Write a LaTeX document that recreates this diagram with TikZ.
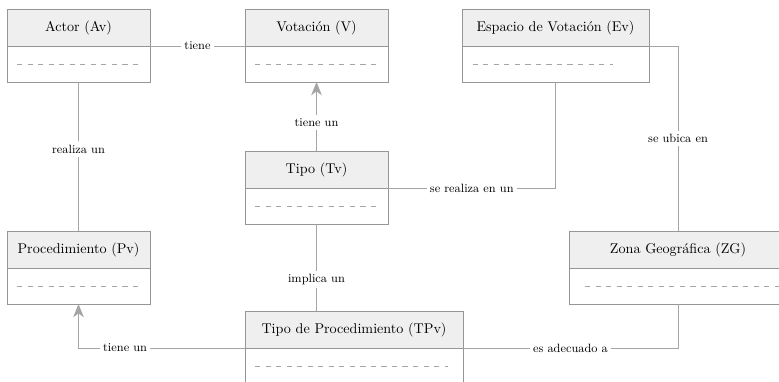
\documentclass[tikz,border=0pt]{standalone}
\usepackage{tikz}
\usepackage{xcolor}
\usetikzlibrary{positioning,arrows.meta}

\definecolor{bordegris}{RGB}{150,150,150}
\definecolor{lineagris}{RGB}{165,165,165}
\definecolor{cabfondo}{RGB}{239,239,239}

\begin{document}
\begin{tikzpicture}[x=0.75pt,y=0.75pt,yscale=-1,xscale=1,
  cab/.style={draw=bordegris,fill=cabfondo,line width=0.75pt,minimum height=27.75pt,inner sep=0pt,outer sep=0pt,font=\fontsize{10.6}{12}\selectfont},
  cuerpo/.style={draw=bordegris,fill=white,line width=0.75pt,minimum height=27pt,inner sep=0pt,outer sep=0pt,below=0pt of #1},
  rel/.style={draw=lineagris,line width=0.75pt},
  guion/.style={draw=lineagris,line width=0.6pt,dash pattern=on 3.9pt off 4pt},
  etiq/.style={fill=white,inner sep=2.5pt,font=\small}]
\useasboundingbox (0,0) rectangle (779,382);

%Shape: Clase Actor
\node [cab,minimum width=107.25pt] (av) at (78.5,27.5) {Actor (Av)};
\node [cuerpo=av,minimum width=107.25pt] (avb) {};
%Shape: Clase Votacion
\node [cab,minimum width=107.25pt] (v) at (316.5,27.5) {Votación (V)};
\node [cuerpo=v,minimum width=107.25pt] (vb) {};
%Shape: Clase Espacio de Votacion
\node [cab,minimum width=140.25pt] (ev) at (555.5,27.5) {Espacio de Votación (Ev)};
\node [cuerpo=ev,minimum width=140.25pt] (evb) {};
%Shape: Clase Tipo
\node [cab,minimum width=107.25pt] (tv) at (316.5,169.5) {Tipo (Tv)};
\node [cuerpo=tv,minimum width=107.25pt] (tvb) {};
%Shape: Clase Procedimiento
\node [cab,minimum width=107.25pt] (pv) at (78.5,249.5) {Procedimiento (Pv)};
\node [cuerpo=pv,minimum width=107.25pt] (pvb) {};
%Shape: Clase Zona Geografica
\node [cab,minimum width=163.5pt] (zg) at (678,249.5) {Zona Geográfica (ZG)};
\node [cuerpo=zg,minimum width=163.5pt] (zgb) {};
%Shape: Clase Tipo de Procedimiento
\node [cab,minimum width=163.5pt] (tpv) at (354,329.5) {Tipo de Procedimiento (TPv)};
\node [cuerpo=tpv,minimum width=163.5pt] (tpvb) {};

%Dashed Lines: atributos
\draw [guion] ([xshift=7.5pt]avb.west) -- ([xshift=-7.5pt]avb.east) ;
\draw [guion] ([xshift=7.5pt]vb.west) -- ([xshift=-7.5pt]vb.east) ;
\draw [guion] ([xshift=8pt]evb.west) -- ([xshift=-27pt]evb.east) ;
\draw [guion] ([xshift=7.5pt]tvb.west) -- ([xshift=-7.5pt]tvb.east) ;
\draw [guion] ([xshift=7.5pt]pvb.west) -- ([xshift=-7.5pt]pvb.east) ;
\draw [guion] ([xshift=12pt]zgb.west) -- ([xshift=-4pt]zgb.east) ;
\draw [guion] ([xshift=7.5pt]tpvb.west) -- ([xshift=-11pt]tpvb.east) ;

%Straight Lines: relaciones
\draw [rel] (av.south east) -- node [etiq] {tiene} (v.south west) ;
\draw [rel] (avb.south) -- node [etiq,pos=0.45] {realiza un} (pv.north) ;
\draw [rel,-{Stealth[length=10pt,width=8pt,inset=3pt]}] (tv.north) -- node [etiq,pos=0.41] {tiene un} (vb.south) ;
\draw [rel] (tv.south east) -| node [etiq,pos=0.25] {se realiza en un} (evb.south) ;
\draw [rel] (ev.south east) -| node [etiq,pos=0.75] {se ubica en} (zg.north) ;
\draw [rel] (tvb.south) -- node [etiq,pos=0.64] {implica un} (tvb.south |- tpv.north) ;
\draw [rel,-{Stealth[length=10pt,width=8pt,inset=3pt]}] (tpv.south west) -| node [etiq,pos=0.36] {tiene un} (pvb.south) ;
\draw [rel] (tpv.south east) -| node [etiq,pos=0.25] {es adecuado a} (zgb.south) ;

\end{tikzpicture}
\end{document}
